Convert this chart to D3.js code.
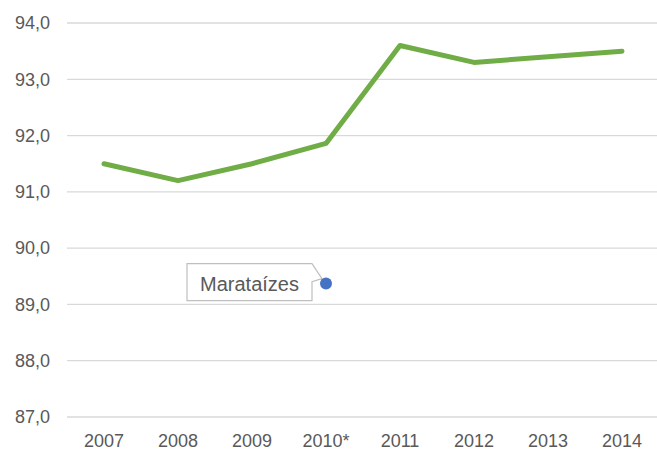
<!DOCTYPE html>
<html><head><meta charset="utf-8">
<script src="https://cdn.jsdelivr.net/npm/d3@7"></script>
<style>body{margin:0;background:#fff}svg{display:block}text{font-family:"Liberation Sans",Arial,sans-serif;fill:#595959}</style>
</head><body>
<svg id="c" width="657" height="453"></svg>
<script>
const categories = ["2007","2008","2009","2010*","2011","2012","2013","2014"];
const values = [91.5, 91.2, 91.5, 91.86, 93.6, 93.3, 93.4, 93.5];
const pointCategory = "2010*";
const pointValue = 89.37;
const pointLabel = "Marataízes";
const yTicks = [87,88,89,90,91,92,93,94];

const svg = d3.select("#c");
const x = d3.scaleBand().domain(categories).range([67, 659]);
const y = d3.scaleLinear().domain([87, 94]).range([417, 23]);
const fmt = v => d3.format(".1f")(v).replace(".", ",");

svg.append("g").selectAll("line").data(yTicks).join("line")
  .attr("x1", 67).attr("x2", 657).attr("y1", d => y(d)).attr("y2", d => y(d))
  .attr("stroke", "#d9d9d9").attr("stroke-width", 1.3);

svg.append("g").selectAll("text").data(yTicks).join("text")
  .attr("x", 50).attr("y", d => y(d)).attr("dy", "0.35em").attr("text-anchor", "end")
  .attr("font-size", 18).text(fmt);

svg.append("g").selectAll("text").data(categories).join("text")
  .attr("x", d => x(d) + x.bandwidth()/2).attr("y", 447).attr("text-anchor", "middle")
  .attr("font-size", 18).text(d => d);

const line = d3.line().x((d,i) => x(categories[i]) + x.bandwidth()/2).y(d => y(d));
svg.append("path").datum(values).attr("d", line).attr("fill", "none")
  .attr("stroke", "#70AD47").attr("stroke-width", 5).attr("stroke-linejoin", "round").attr("stroke-linecap", "round");

const px = x(pointCategory) + x.bandwidth()/2, py = y(pointValue);
// callout
const bx0 = px - 139, bx1 = px - 14, by0 = py - 20, by1 = py + 17;
svg.append("path")
  .attr("d", `M${bx0},${by0} L${bx1},${by0} L${px-4},${py-5} L${bx1},${py-2} L${bx1},${by1} L${bx0},${by1} Z`)
  .attr("fill", "#fff").attr("stroke", "#bfbfbf").attr("stroke-width", 1.2);
svg.append("text").attr("x", (bx0+bx1)/2).attr("y", py + 7).attr("text-anchor", "middle")
  .attr("font-size", 20).text(pointLabel);
svg.append("circle").attr("cx", px).attr("cy", py).attr("r", 6).attr("fill", "#4472C4");
</script>
</body></html>
